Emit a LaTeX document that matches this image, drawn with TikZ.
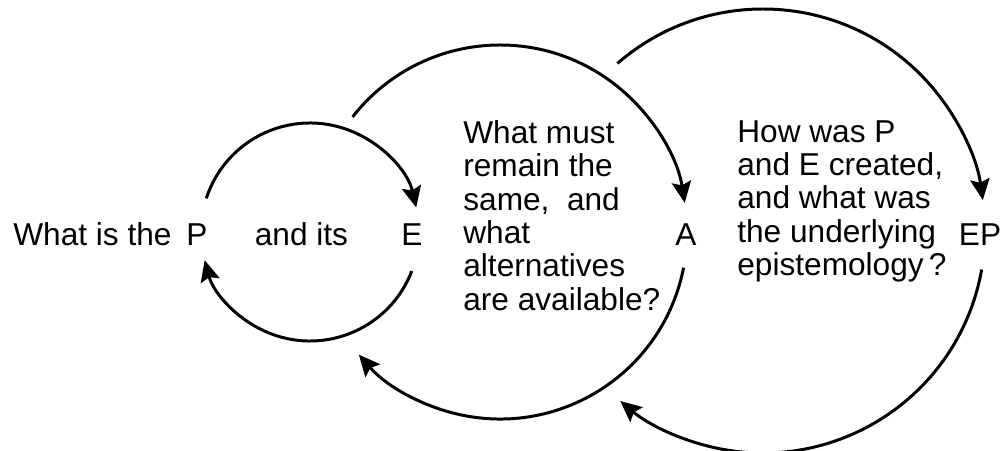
\documentclass[tikz,border=0pt]{standalone}
\usepackage{fontspec}
\setmainfont{Liberation Sans}
\usetikzlibrary{arrows.meta}

\begin{document}
\begin{tikzpicture}[
        ringarrow/.style={line width=1.7pt, -{Stealth[length=12pt,width=11pt,inset=2pt]}},
        txt/.style={inner sep=0pt, font=\fontsize{18}{19}\selectfont}
    ]
        \useasboundingbox (0,0) rectangle (20.1,9);

        \coordinate (C1) at (6.2,4.36);
        \coordinate (C2) at (10.0,4.36);
        \coordinate (C3) at (15.26,4.38);

        \draw[ringarrow] (C1) ++(162:2.18) arc[start angle=162, end angle=13, radius=2.18];
        \draw[ringarrow] (C1) ++(-21:2.18) arc[start angle=-21, end angle=-165, radius=2.18];

        \draw[ringarrow] (C2) ++(142:3.74) arc[start angle=142, end angle=9, radius=3.74];
        \draw[ringarrow] (C2) ++(-11:3.74) arc[start angle=-11, end angle=-139, radius=3.74];

        \draw[ringarrow] (C3) ++(131:4.44) arc[start angle=131, end angle=8, radius=4.44];
        \draw[ringarrow] (C3) ++(-10:4.44) arc[start angle=-10, end angle=-130, radius=4.44];

        \node[txt, anchor=base west] (q1) at (0.26,4.10) {What is the};
        \node[txt, anchor=base] (P) at (3.94,4.10) {P};
        \node[txt, anchor=base] (its) at (6.03,4.10) {and its};
        \node[txt, anchor=base] (E) at (8.24,4.10) {E};
        \node[txt, anchor=base] (A) at (13.72,4.10) {A};
        \node[txt, anchor=base] (EP) at (19.6,4.10) {EP};

        \node[txt, anchor=north west, align=left] (q2) at (9.26,6.6)
        {What must\\remain the\\same,\ \ and\\what\\alternatives\\are available?};
        \node[txt, anchor=north west, align=left] (q3) at (14.74,6.6)
        {How was P\\and E created,\\and what was\\the underlying\\epistemology\,?};

    \end{tikzpicture}
\end{document}
